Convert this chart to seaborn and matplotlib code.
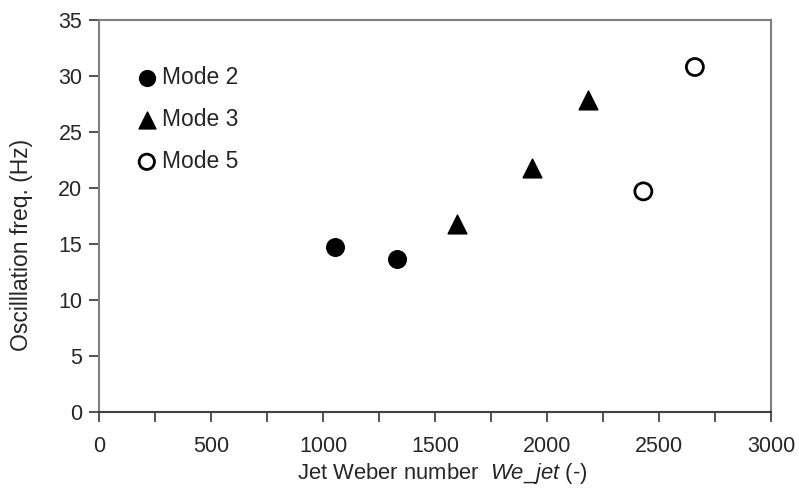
import matplotlib
matplotlib.use("Agg")
import matplotlib.pyplot as plt
import seaborn as sns
import pandas as pd

# values
mode2_we = [1054, 1330]
mode2_freq = [14.7, 13.7]
mode3_we = [1598, 1933, 2183]
mode3_freq = [16.8, 21.8, 27.9]
mode5_we = [2430, 2660]
mode5_freq = [19.7, 30.8]

x_ticks = list(range(0, 3001, 500))
y_ticks = list(range(0, 36, 5))

sns.set_style("white")
plt.rcParams['font.family'] = ['Liberation Sans', 'DejaVu Sans']
plt.rcParams['mathtext.fontset'] = 'custom'
plt.rcParams['mathtext.it'] = 'Liberation Sans:italic'
plt.rcParams['mathtext.rm'] = 'Liberation Sans'

fig = plt.figure(figsize=(7.99, 4.91), dpi=100)
ax = fig.add_axes([0.1239, 0.1609, 0.8411, 0.7984])

df2 = pd.DataFrame({"we": mode2_we, "freq": mode2_freq})
df3 = pd.DataFrame({"we": mode3_we, "freq": mode3_freq})
df5 = pd.DataFrame({"we": mode5_we, "freq": mode5_freq})

sns.scatterplot(data=df2, x="we", y="freq", ax=ax, marker="o", s=160,
                color="black", edgecolor="black", label="Mode 2")
sns.scatterplot(data=df3, x="we", y="freq", ax=ax, marker="^", s=180,
                color="black", edgecolor="black", label="Mode 3")
sns.scatterplot(data=df5, x="we", y="freq", ax=ax, marker="o", s=150,
                facecolor="none", edgecolor="black", linewidth=2, label="Mode 5")

ax.set_xlim(0, 3000)
ax.set_ylim(0, 35)
ax.set_xticks(x_ticks)
ax.set_xticks(list(range(250, 3000, 500)), minor=True)
ax.set_yticks(y_ticks)
ax.tick_params(axis="both", which="both", direction="out", length=7,
               width=1.3, color="#444444", labelsize=15.5)
ax.tick_params(axis="both", which="major", bottom=True, left=True)
ax.tick_params(axis="x", which="minor", bottom=True)
ax.tick_params(axis="x", which="major", pad=10)
ax.tick_params(axis="y", which="major", pad=5)

for sp in ax.spines.values():
    sp.set_color("#7f7f7f")
    sp.set_linewidth(1.5)
ax.spines["bottom"].set_color("#404040")

ax.set_xlabel(r"Jet Weber number  $\mathit{We\_jet}$ (-)", fontsize=15.8, labelpad=6)
ax.xaxis.set_label_coords(0.51, -0.125)
ax.set_ylabel("Oscilllation freq. (Hz)", fontsize=16.5)
ax.yaxis.set_label_coords(-0.098, 0.426)

leg = ax.legend(loc="upper left", bbox_to_anchor=(0.049, 0.882), frameon=False,
                fontsize=16.5, handletextpad=0.0, handlelength=1.3,
                labelspacing=0.82, markerscale=0.9, borderaxespad=0,
                borderpad=0)

fig.savefig("out.png", dpi=100)
